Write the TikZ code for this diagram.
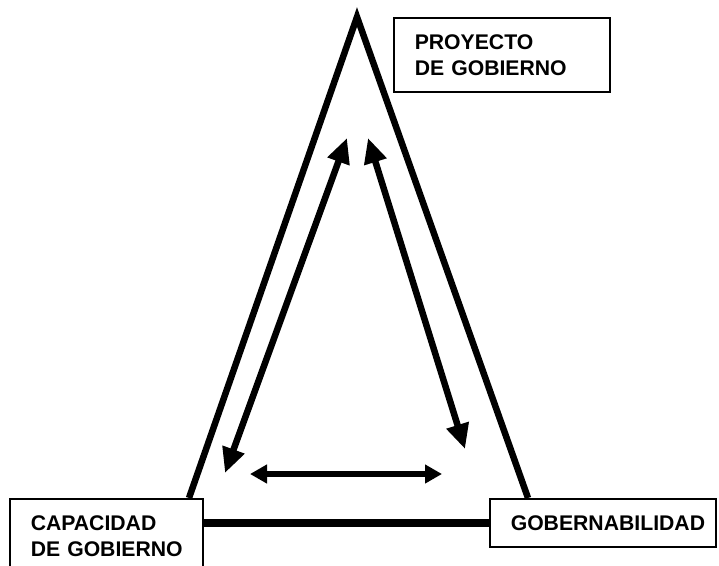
\documentclass[tikz,border=0pt]{standalone}
\usepackage{fontspec}
\setmainfont{Liberation Sans}
\usetikzlibrary{arrows.meta,calc}
\tikzset{
    box/.style = {draw, rectangle, line width=1.5pt, anchor=north west,
        align=left, inner xsep=21pt, inner ysep=16.5pt,
        font=\bfseries\fontsize{21.2}{26}\selectfont,
        execute at begin node={\hyphenpenalty=10000\hbadness=10000}},
    leg/.style = {line width=6.5pt, line join=miter},
    base/.style = {line width=8pt},
    bigarrow/.style = {line width=6.5pt,
        {Triangle[length=25pt,width=22pt]}-{Triangle[length=25pt,width=22pt]}},
    smallarrow/.style = {line width=5.5pt,
        {Triangle[length=17pt,width=18pt]}-{Triangle[length=17pt,width=18pt]}}
}

\begin{document}
\begin{tikzpicture}[x=1pt,y=-1pt]
    \useasboundingbox (0,0) rectangle (719,565);
    % the three corners
    \node[box, text width=151pt] (capacidad) at (9,498) {CAPACIDAD\\DE~GOBIERNO};
    \node[box, text width=184pt] (goberna) at (489,498) {GOBERNABILIDAD};
    \node[box, text width=174pt] (proyecto) at (393,17) {PROYECTO\\DE~GOBIERNO};
    \coordinate (apex) at (357,17);
    % triangle
    \draw[leg] ([xshift=180pt]capacidad.north west) -- (apex) -- ([xshift=39pt]goberna.north west);
    \draw[base] (goberna.west) -- (goberna.west -| capacidad.east);
    % inner arrows
    \coordinate (l1) at (347,138);
    \coordinate (l2) at (225,473);
    \coordinate (r1) at (368,138);
    \coordinate (r2) at (465,449);
    \coordinate (b1) at (250,474);
    \coordinate (b2) at (442,474);
    \draw[bigarrow] (l1) -- (l2);
    \draw[bigarrow] (r1) -- (r2);
    \draw[smallarrow] (b1) -- (b2);
\end{tikzpicture}
\end{document}
